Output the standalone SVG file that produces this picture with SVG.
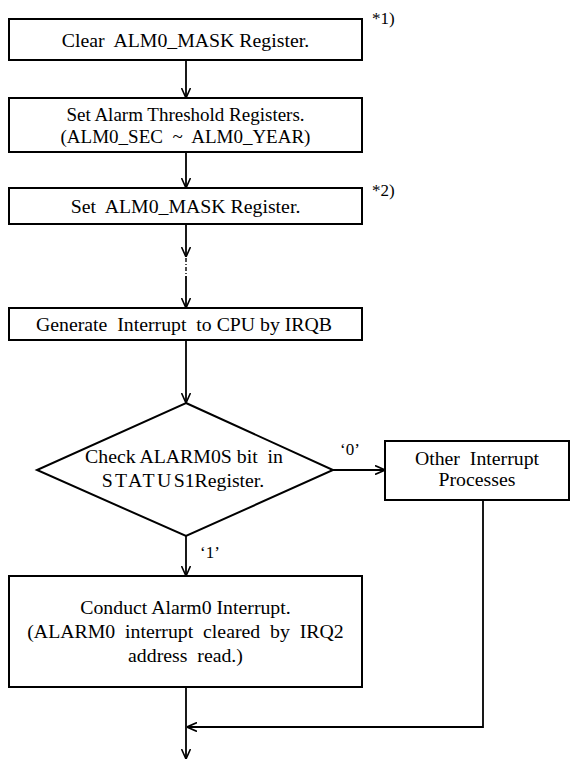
<svg xmlns="http://www.w3.org/2000/svg" width="570" height="760" viewBox="0 0 570 760">
<defs>
<marker id="arr" viewBox="0 0 10 10" refX="10" refY="5" markerWidth="10" markerHeight="10" markerUnits="userSpaceOnUse" orient="auto">
<path d="M0,0.5 L10,5 L0,9.5" fill="none" stroke="#000" stroke-width="1.6"/>
</marker>
</defs>
<style>
.box{fill:#fff;stroke:#000;stroke-width:2}
.t{font-family:"Liberation Serif","Times New Roman",serif;font-size:19.8px;fill:#000;text-anchor:middle}
.n{font-family:"Liberation Serif","Times New Roman",serif;font-size:17px;fill:#000}
.c{fill:none;stroke:#000;stroke-width:1.8}
.d{fill:none;stroke:#000;stroke-width:1.4;stroke-dasharray:4 2 1 2}
</style>
<rect width="570" height="760" fill="#fff"/>
<g id="connectors">
<line class="c" x1="186" y1="60" x2="186" y2="98" marker-end="url(#arr)"/>
<line class="c" x1="186" y1="152" x2="186" y2="188" marker-end="url(#arr)"/>
<line class="c" x1="186" y1="224" x2="186" y2="257" marker-end="url(#arr)"/>
<line class="d" x1="186" y1="258" x2="186" y2="276"/>
<line class="c" x1="186" y1="276" x2="186" y2="308" marker-end="url(#arr)"/>
<line class="c" x1="186" y1="340" x2="186" y2="403" marker-end="url(#arr)"/>
<line class="c" x1="333" y1="470" x2="385" y2="470" marker-end="url(#arr)"/>
<line class="c" x1="186" y1="536" x2="186" y2="576" marker-end="url(#arr)"/>
<line class="c" x1="186" y1="687" x2="186" y2="759" marker-end="url(#arr)"/>
<polyline class="c" points="483,500 483,727 187,727" marker-end="url(#arr)"/>
<text class="n" x="350" y="455" text-anchor="middle">‘0’</text>
<text class="n" x="210" y="558" text-anchor="middle">‘1’</text>
</g>
<g id="n1">
<rect class="box" x="9" y="19" width="353" height="41"/>
<text class="t" x="185.5" y="47" xml:space="preserve">Clear  ALM0_MASK Register.</text>
<text class="n" x="372" y="24">*1)</text>
</g>
<g id="n2">
<rect class="box" x="9" y="98" width="353" height="54"/>
<text class="t" x="185.5" y="121" style="font-size:19px">Set Alarm Threshold Registers.</text>
<text class="t" x="185.5" y="143" style="font-size:19px" xml:space="preserve">(ALM0_SEC  ~  ALM0_YEAR)</text>
</g>
<g id="n3">
<rect class="box" x="9" y="188" width="353" height="36"/>
<text class="t" x="185.5" y="213" xml:space="preserve">Set  ALM0_MASK Register.</text>
<text class="n" x="372" y="196">*2)</text>
</g>
<g id="n4">
<rect class="box" x="9" y="308" width="353" height="32"/>
<text class="t" x="184" y="331" xml:space="preserve">Generate  Interrupt  to CPU by IRQB</text>
</g>
<g id="n5">
<polygon class="box" points="186,403 333,470 186,536 37,470"/>
<text class="t" x="184" y="463" xml:space="preserve">Check ALARM0S bit  in</text>
<text class="t" x="183" y="487"><tspan letter-spacing="2.4">STATU</tspan>S1Register.</text>
</g>
<g id="n6">
<rect class="box" x="385" y="441" width="184" height="59"/>
<text class="t" x="477" y="465" xml:space="preserve">Other  Interrupt</text>
<text class="t" x="477" y="486">Processes</text>
</g>
<g id="n7">
<rect class="box" x="9" y="576" width="353" height="111"/>
<text class="t" x="185.5" y="614">Conduct Alarm0 Interrupt.</text>
<text class="t" x="185.5" y="638" xml:space="preserve">(ALARM0  interrupt  cleared  by  IRQ2</text>
<text class="t" x="185.5" y="662" xml:space="preserve">address  read.)</text>
</g>
</svg>
